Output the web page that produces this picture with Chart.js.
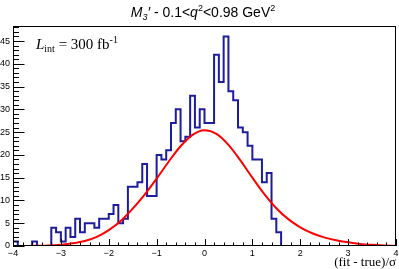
<!DOCTYPE html>
<html>
<head>
<meta charset="utf-8">
<script src="https://cdn.jsdelivr.net/npm/chart.js@4.4.0/dist/chart.umd.min.js"></script>
<style>
  html, body { margin: 0; padding: 0; background: #fff; }
  #wrap { width: 399px; height: 269px; }
</style>
</head>
<body>
<div id="wrap"><canvas id="pullChart" width="399" height="269"></canvas></div>
<script>
// histogram: 80 bins of width 0.1 starting at -4
const binLow = -4;
const binWidth = 0.1;
const counts = [
    1, 0, 0, 0, 1, 0, 0, 0, 4, 3,
    1, 4, 2, 6, 3, 5, 5, 4, 6, 6,
    7, 9, 5, 6, 13, 13, 14, 18, 11, 11,
    20, 19, 21, 27, 30, 23, 24, 33, 26, 30,
    27, 27, 42, 36, 46, 34, 32, 26, 25, 22,
    19, 19, 14, 16, 6, 3, 0, 0, 0, 0,
    0, 0, 0, 0, 0, 0, 0, 0, 0, 0,
    0, 0, 0, 0, 0, 0, 0, 0, 0, 0
];

// gaussian fit curve
const fitX = [-4, -3.75, -3.5, -3.25, -3, -2.75, -2.5, -2.25, -2, -1.75, -1.5, -1.25, -1, -0.75, -0.5, -0.25,
              0, 0.25, 0.5, 0.75, 1, 1.25, 1.5, 1.75, 2, 2.25, 2.5, 2.75, 3, 3.25, 3.5, 3.75, 4];
const fitY = [0.0, 0.02, 0.05, 0.12, 0.3, 0.6, 1.1, 2.0, 3.5, 5.5, 8.2, 11.3, 14.8, 18.5, 21.9, 24.4,
              25.4, 24.6, 22.2, 18.8, 15.0, 11.4, 8.3, 5.9, 4.1, 2.8, 1.9, 1.25, 0.8, 0.45, 0.25, 0.12, 0.05];

const xTicks = [-4, -3, -2, -1, 0, 1, 2, 3, 4];
const yTicks = [0, 5, 10, 15, 20, 25, 30, 35, 40, 45];
const yMax = 48.3;

const histPoints = counts.map((c, i) => ({ x: binLow + i * binWidth, y: c }));
histPoints.push({ x: binLow + counts.length * binWidth, y: counts[counts.length - 1] });
const fitPoints = fitX.map((v, i) => ({ x: v, y: fitY[i] }));

// draws text made of several pieces (italic, sub/superscripts)
function drawRich(ctx, parts, x, y, align) {
    let total = 0;
    parts.forEach(p => { ctx.font = p.font; total += ctx.measureText(p.t).width; });
    let cx = x;
    if (align === 'center') cx = x - total / 2;
    if (align === 'right') cx = x - total;
    ctx.textAlign = 'left';
    ctx.textBaseline = 'alphabetic';
    parts.forEach(p => {
        ctx.font = p.font;
        ctx.fillText(p.t, cx, y + (p.dy || 0));
        cx += ctx.measureText(p.t).width;
    });
}

const rootFrame = {
    id: 'rootFrame',
    afterDraw(chart) {
        const { ctx, chartArea: a, scales: { x, y } } = chart;
        ctx.save();
        ctx.strokeStyle = '#000';
        ctx.lineWidth = 1;
        ctx.strokeRect(a.left + 0.5, a.top + 0.5, a.right - a.left - 1, a.bottom - a.top - 1);

        // x ticks (inside, pointing up)
        ctx.beginPath();
        for (let i = 0; i <= 40; i++) {
            const v = -4 + i * 0.2;
            const px = Math.round(x.getPixelForValue(v)) + 0.5;
            const len = (i % 5 === 0) ? 7 : 3.5;
            ctx.moveTo(px, a.bottom);
            ctx.lineTo(px, a.bottom - len);
        }
        // y ticks (inside, pointing right)
        for (let v = 0; v <= yMax; v++) {
            const py = Math.round(y.getPixelForValue(v)) + 0.5;
            const len = (v % 5 === 0) ? 11.5 : 6;
            ctx.moveTo(a.left, py);
            ctx.lineTo(a.left + len, py);
        }
        ctx.stroke();

        ctx.fillStyle = '#000';
        ctx.font = '9px "Liberation Sans", Arial, sans-serif';
        ctx.textAlign = 'center';
        ctx.textBaseline = 'alphabetic';
        xTicks.forEach(v => {
            ctx.fillText(v < 0 ? '\u2212' + Math.abs(v) : String(v), x.getPixelForValue(v), a.bottom + 10);
        });
        ctx.textAlign = 'right';
        ctx.textBaseline = 'middle';
        yTicks.forEach(v => {
            ctx.fillText(String(v), a.left - 3, y.getPixelForValue(v));
        });

        const sans = '"Liberation Sans", Arial, sans-serif';
        const serif = '"Liberation Serif", "Times New Roman", serif';
        drawRich(ctx, [
            { t: 'M', font: 'italic 14px ' + sans },
            { t: '3', font: 'italic 9px ' + sans, dy: 3 },
            { t: '\u2032', font: 'italic 14px ' + sans },
            { t: ' - 0.1<', font: '14px ' + sans },
            { t: 'q', font: 'italic 14px ' + sans },
            { t: '2', font: '9px ' + sans, dy: -6 },
            { t: '<0.98 GeV', font: '14px ' + sans },
            { t: '2', font: '9px ' + sans, dy: -6 }
        ], 203, 17, 'center');

        drawRich(ctx, [
            { t: 'L', font: 'italic 15px ' + serif },
            { t: 'int', font: '10px ' + serif, dy: 3 },
            { t: ' = 300 fb', font: '15px ' + serif },
            { t: '-1', font: '10px ' + serif, dy: -6 }
        ], 36, 49, 'left');

        drawRich(ctx, [
            { t: '(fit - true)/\u03c3', font: '13px ' + serif }
        ], 396, 266, 'right');
        ctx.restore();
    }
};

new Chart(document.getElementById('pullChart'), {
    type: 'line',
    data: {
        datasets: [
            {
                label: 'fit',
                data: fitPoints,
                borderColor: '#ff0000',
                borderWidth: 2,
                pointRadius: 0,
                cubicInterpolationMode: 'monotone',
                fill: false,
                order: 1
            },
            {
                label: 'pull',
                data: histPoints,
                borderColor: '#1c1c9c',
                borderWidth: 2,
                pointRadius: 0,
                stepped: 'before',
                fill: false,
                order: 2
            }
        ]
    },
    options: {
        responsive: false,
        animation: false,
        devicePixelRatio: 1,
        layout: { padding: { left: 13, right: 3, top: 26, bottom: 23 } },
        plugins: { legend: { display: false }, tooltip: { enabled: false }, title: { display: false } },
        scales: {
            x: { type: 'linear', min: -4, max: 4, display: false },
            y: { type: 'linear', min: 0, max: yMax, display: false }
        }
    },
    plugins: [rootFrame]
});
</script>
</body>
</html>
